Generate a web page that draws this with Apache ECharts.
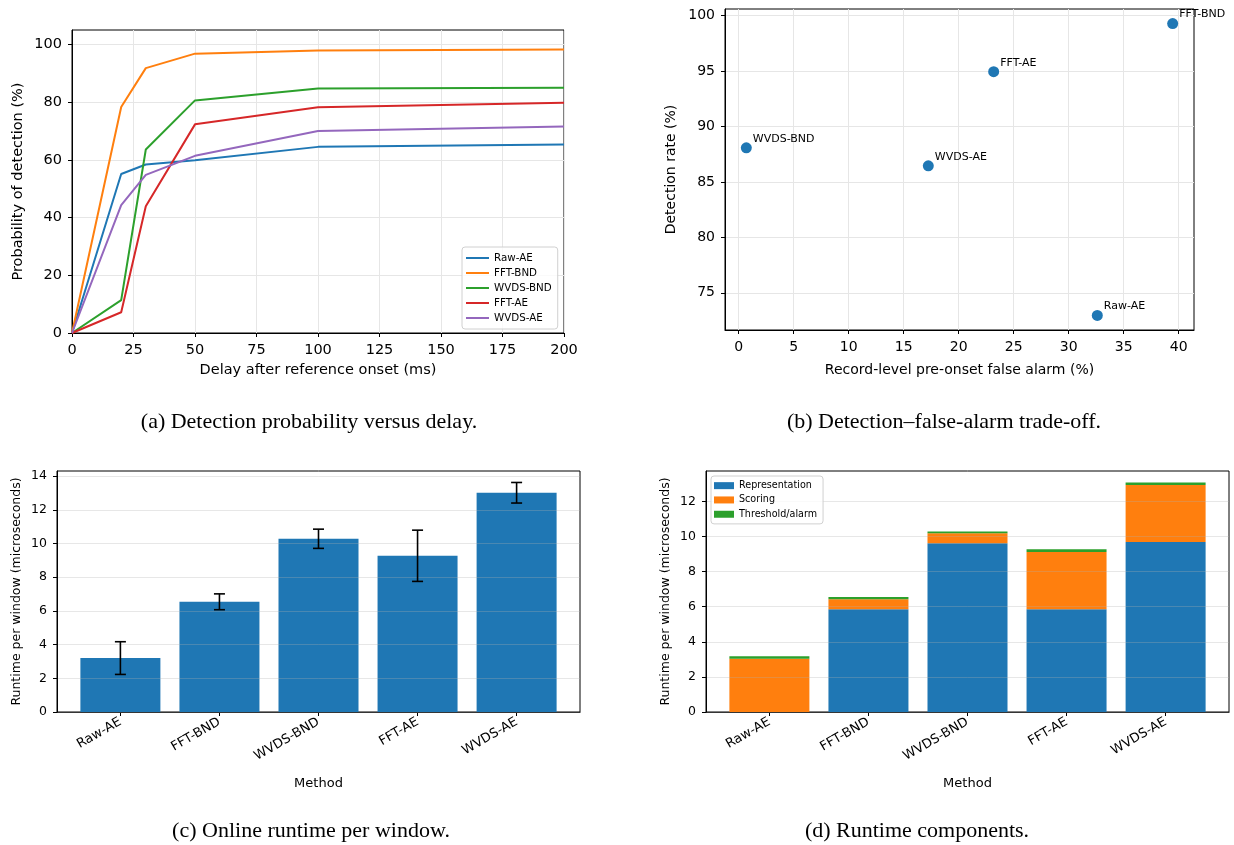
<!DOCTYPE html>
<html>
<head>
<meta charset="utf-8">
<script src="https://cdn.jsdelivr.net/npm/echarts@6/dist/echarts.min.js"></script>
<style>html,body{margin:0;padding:0;background:#fff;}#main{width:1234px;height:845px;}</style>
</head>
<body>
<div id="main"></div>
<script>
// ---------- data ----------
const delays = [0, 20, 30, 50, 100, 200];
const methods = ['Raw-AE', 'FFT-BND', 'WVDS-BND', 'FFT-AE', 'WVDS-AE'];
const pdRawAE    = [0, 55.1, 58.4, 59.9, 64.5, 65.3];
const pdFftBnd   = [0, 78.3, 91.8, 96.8, 97.9, 98.2];
const pdWvdsBnd  = [0, 11.4, 63.6, 80.6, 84.7, 85.0];
const pdFftAE    = [0, 7.2, 43.9, 72.3, 78.2, 79.8];
const pdWvdsAE   = [0, 44.3, 54.8, 61.4, 70.0, 71.6];
const falseAlarm = [32.6, 39.45, 0.7, 23.18, 17.24];
const detRate    = [72.96, 99.28, 88.08, 94.94, 86.45];
const runtimeMean = [3.2, 6.54, 10.28, 9.27, 13.01];
const runtimeErr  = [0.97, 0.47, 0.57, 1.52, 0.61];
const compRepresentation = [0, 5.86, 9.61, 5.86, 9.69];
const compScoring        = [3.03, 0.57, 0.57, 3.26, 3.24];
const compThreshold      = [0.15, 0.13, 0.11, 0.15, 0.15];
const ticksA_x = [0, 25, 50, 75, 100, 125, 150, 175, 200];
const ticksA_y = [0, 20, 40, 60, 80, 100];
const ticksB_x = [0, 5, 10, 15, 20, 25, 30, 35, 40];
const ticksB_y = [75, 80, 85, 90, 95, 100];
const ticksC_y = [0, 2, 4, 6, 8, 10, 12, 14];
const ticksD_y = [0, 2, 4, 6, 8, 10, 12];
const captions = ['(a) Detection probability versus delay.', '(b) Detection\u2013false-alarm trade-off.',
                  '(c) Online runtime per window.', '(d) Runtime components.'];

// ---------- helpers ----------
const C = ['#1f77b4', '#ff7f0e', '#2ca02c', '#d62728', '#9467bd'];
const FONT = 'DejaVu Sans';
function margins(lo, hi) { const d = (hi - lo) * 0.05; return [lo - d, hi + d]; }
const bx = margins(Math.min(...falseAlarm), Math.max(...falseAlarm));
const by = margins(Math.min(...detRate), Math.max(...detRate));
const cMax = Math.max(...runtimeMean.map((m, i) => m + runtimeErr[i])) * 1.05;
const totals = methods.map((_, i) => compRepresentation[i] + compScoring[i] + compThreshold[i]);
const dMax = Math.max(...totals) * 1.05;
const catRange = [-0.4 - 0.24, methods.length - 1 + 0.4 + 0.24];
const catTicks = methods.map((_, i) => i);

function valAxis(gi, min, max, ticks, fs, extra) {
  return Object.assign({
    type: 'value', gridIndex: gi, min: min, max: max,
    axisLine: { show: true, onZero: false, lineStyle: { color: '#000', width: 1 } },
    axisTick: { show: true, length: 4, customValues: ticks, lineStyle: { color: '#000' } },
    axisLabel: { customValues: ticks, color: '#000', fontFamily: FONT, fontSize: fs, margin: 10 },
    splitLine: { show: true, lineStyle: { color: '#e6e6e6', width: 1 } },
    nameTextStyle: { color: '#000', fontFamily: FONT, fontSize: fs },
    nameLocation: 'middle'
  }, extra || {});
}
function catLabel() {
  return { customValues: catTicks, rotate: 30, color: '#000', fontFamily: FONT, fontSize: 13, margin: 9,
           formatter: v => methods[Math.round(v)] };
}

const chart = echarts.init(document.getElementById('main'), null, { renderer: 'canvas' });

const gridStyle = { show: true, borderColor: '#000', borderWidth: 1, backgroundColor: 'transparent' };

const option = {
  animation: false,
  grid: [
    Object.assign({ left: 72, top: 30, width: 492, height: 303 }, gridStyle),
    Object.assign({ left: 725, top: 9, width: 469, height: 321 }, gridStyle),
    Object.assign({ left: 57, top: 471, width: 523, height: 241 }, gridStyle),
    Object.assign({ left: 706, top: 471, width: 523, height: 241 }, gridStyle)
  ],
  xAxis: [
    valAxis(0, 0, 200, ticksA_x, 14.5, { name: 'Delay after reference onset (ms)', nameGap: 30 }),
    valAxis(1, bx[0], bx[1], ticksB_x, 14, { name: 'Record-level pre-onset false alarm (%)', nameGap: 33 }),
    valAxis(2, catRange[0], catRange[1], catTicks, 13, { name: 'Method', nameGap: 65, splitLine: { show: false }, axisLabel: catLabel() }),
    valAxis(3, catRange[0], catRange[1], catTicks, 13, { name: 'Method', nameGap: 65, splitLine: { show: false }, axisLabel: catLabel() })
  ],
  yAxis: [
    valAxis(0, 0, 105, ticksA_y, 14.5, { name: 'Probability of detection (%)', nameGap: 46 }),
    valAxis(1, by[0], by[1], ticksB_y, 14, { name: 'Detection rate (%)', nameGap: 47 }),
    valAxis(2, 0, cMax, ticksC_y, 12.5, { name: 'Runtime per window (microseconds)', nameGap: 34, z: 5,
      splitLine: { show: true, lineStyle: { color: 'rgba(176,176,176,0.3)', width: 1 } } }),
    valAxis(3, 0, dMax, ticksD_y, 12.5, { name: 'Runtime per window (microseconds)', nameGap: 34, z: 5,
      splitLine: { show: true, lineStyle: { color: 'rgba(176,176,176,0.3)', width: 1 } } })
  ],
  legend: [
    {
      data: methods, orient: 'vertical', left: 462, top: 247, icon: 'rect',
      itemWidth: 23, itemHeight: 2, itemGap: 3, padding: [5, 6, 5, 4],
      borderColor: '#d0d0d0', borderWidth: 1, borderRadius: 3, backgroundColor: 'rgba(255,255,255,0.8)',
      textStyle: { fontFamily: FONT, fontSize: 10.3, color: '#000', lineHeight: 12 },
      selectedMode: false
    },
    {
      data: ['Representation', 'Scoring', 'Threshold/alarm'], orient: 'vertical', left: 711, top: 476, icon: 'rect',
      itemWidth: 20, itemHeight: 7, itemGap: 3, padding: [4, 6, 4, 3],
      borderColor: '#d0d0d0', borderWidth: 1, borderRadius: 3, backgroundColor: 'rgba(255,255,255,0.8)',
      textStyle: { fontFamily: FONT, fontSize: 9.6, color: '#000', lineHeight: 11.3 },
      selectedMode: false, z: 10
    }
  ],
  graphic: captions.map((t, i) => ({
    type: 'text',
    x: [309, 944, 311, 917][i], y: [422, 422, 831, 831][i],
    style: { text: t, font: '22px "Liberation Serif"', fill: '#000', textAlign: 'center', textVerticalAlign: 'middle' }
  })),
  series: []
};

const pdSeries = [pdRawAE, pdFftBnd, pdWvdsBnd, pdFftAE, pdWvdsAE];
pdSeries.forEach((arr, i) => {
  option.series.push({
    type: 'line', name: methods[i], xAxisIndex: 0, yAxisIndex: 0,
    data: delays.map((d, k) => [d, arr[k]]),
    showSymbol: false, symbol: 'none', lineStyle: { width: 2, color: C[i] }, itemStyle: { color: C[i] }
  });
});

option.series.push({
  type: 'scatter', name: 'tradeoff', xAxisIndex: 1, yAxisIndex: 1, symbolSize: 11,
  itemStyle: { color: C[0], opacity: 1 },
  data: methods.map((m, i) => ({ value: [falseAlarm[i], detRate[i]], name: m })),
  label: {
    show: true, formatter: p => p.name, position: [12, 2], align: 'left', verticalAlign: 'bottom',
    fontFamily: FONT, fontSize: 11, color: '#000'
  }
});

option.series.push({
  type: 'bar', name: 'Runtime', xAxisIndex: 2, yAxisIndex: 2, barWidth: 80,
  itemStyle: { color: C[0] },
  data: methods.map((m, i) => [i, runtimeMean[i]])
});
option.series.push({
  type: 'custom', name: 'err', xAxisIndex: 2, yAxisIndex: 2, z: 6,
  data: methods.map((m, i) => [i, runtimeMean[i] - runtimeErr[i], runtimeMean[i] + runtimeErr[i]]),
  renderItem: function (params, api) {
    const lo = api.coord([api.value(0), api.value(1)]);
    const hi = api.coord([api.value(0), api.value(2)]);
    const hw = 5.5;
    const st = { stroke: '#000', lineWidth: 1.6 };
    return { type: 'group', children: [
      { type: 'line', shape: { x1: lo[0], y1: lo[1], x2: hi[0], y2: hi[1] }, style: st },
      { type: 'line', shape: { x1: lo[0] - hw, y1: lo[1], x2: lo[0] + hw, y2: lo[1] }, style: st },
      { type: 'line', shape: { x1: hi[0] - hw, y1: hi[1], x2: hi[0] + hw, y2: hi[1] }, style: st }
    ]};
  }
});

// stacked components: value column first so the stack is computed on the y dimension
[['Representation', compRepresentation, C[0]], ['Scoring', compScoring, C[1]], ['Threshold/alarm', compThreshold, C[2]]]
  .forEach(([name, arr, col]) => {
    option.series.push({
      type: 'bar', name: name, stack: 'comp', xAxisIndex: 3, yAxisIndex: 3, barWidth: 80,
      itemStyle: { color: col },
      encode: { x: 1, y: 0 },
      data: methods.map((m, i) => [arr[i], i])
    });
  });

chart.setOption(option);
</script>
</body>
</html>
